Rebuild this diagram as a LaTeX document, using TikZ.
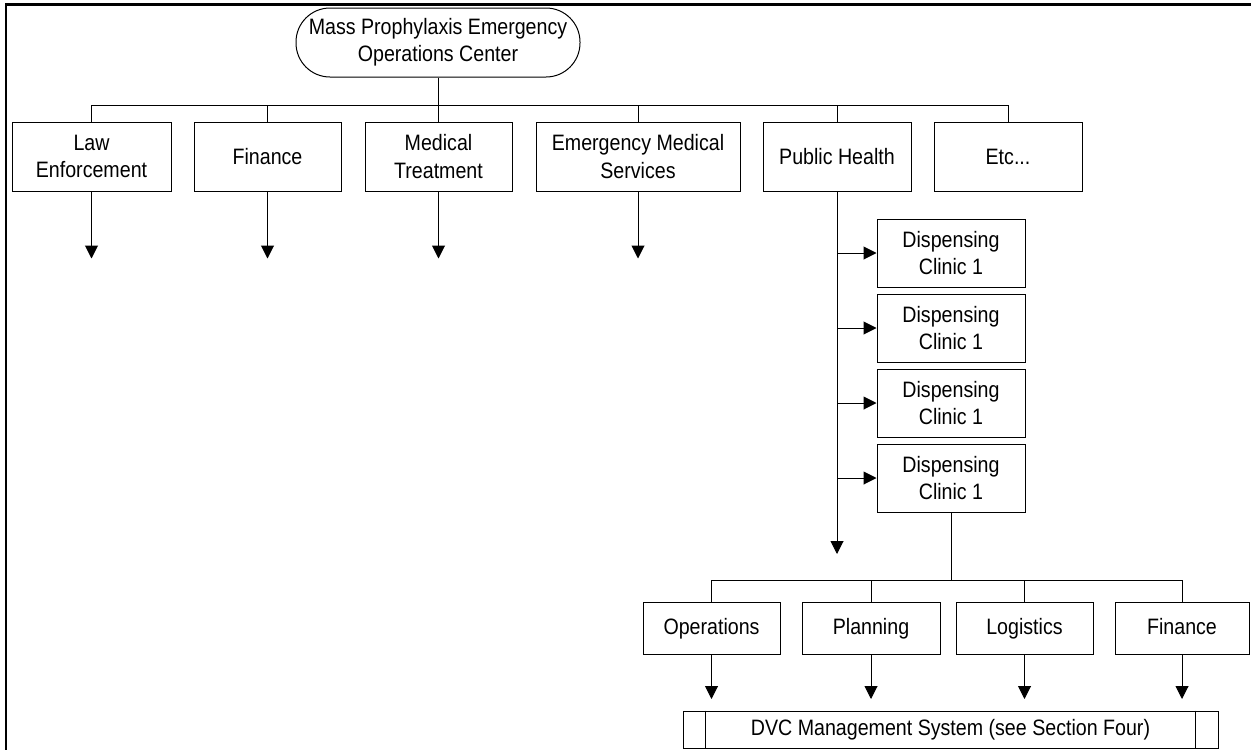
\documentclass[tikz,border=0pt]{standalone}
\usepackage{fontspec}
\setmainfont{Liberation Sans}
\newfontfamily\dfont[FakeStretch=0.88]{Liberation Sans}
\usetikzlibrary{arrows.meta,calc}
\tikzset{
  box/.style={draw=black, line width=1pt, inner sep=0pt, align=center,
    font=\dfont\fontsize{22.3}{27.3}\selectfont, text=black},
  conn/.style={draw=black, line width=1pt},
  arr/.style={conn, -{Triangle[length=13pt,width=13pt]}},
  frame/.style={draw=black, line width=2.2pt}
}
\begin{document}
\begin{tikzpicture}[x=1pt,y=-1pt]
\useasboundingbox (0,0) rectangle (1251,750);
\draw[frame] (6,750) -- (6,4.5) -- (1251,4.5);

% top node
\node[box, rounded corners=34pt, minimum width=284pt, minimum height=69pt] (top) at (438,42.5)
  {Mass Prophylaxis Emergency\\Operations Center};

% level 1
\node[box, minimum width=159pt, minimum height=69pt] (law) at (91.5,156.5) {Law\\Enforcement};
\node[box, minimum width=147pt, minimum height=69pt] (fin) at (267.5,156.5) {Finance};
\node[box, minimum width=147pt, minimum height=69pt] (med) at (438.5,156.5) {Medical\\Treatment};
\node[box, minimum width=204pt, minimum height=69pt] (ems) at (638,156.5) {Emergency Medical\\Services};
\node[box, minimum width=148pt, minimum height=69pt] (ph) at (837,156.5) {Public Health};
\node[box, minimum width=148pt, minimum height=69pt] (etc) at (1008,156.5) {Etc...};

\coordinate (bus) at (438.5,105);
\draw[conn] (top.south) -- (top.south |- bus);
\draw[conn] (law.north) -- (law.north |- bus) -- (etc.north |- bus) -- (etc.north);
\draw[conn] (fin.north) -- (fin.north |- bus);
\draw[conn] (med.north) -- (med.north |- bus);
\draw[conn] (ems.north) -- (ems.north |- bus);
\draw[conn] (ph.north) -- (ph.north |- bus);

% free-ended down arrows
\path (law.south) ++(0,67) coordinate (lawE);
\path (fin.south) ++(0,67) coordinate (finE);
\path (med.south) ++(0,67) coordinate (medE);
\path (ems.south) ++(0,67) coordinate (emsE);
\draw[arr] (law.south) -- (lawE);
\draw[arr] (fin.south) -- (finE);
\draw[arr] (med.south) -- (medE);
\draw[arr] (ems.south) -- (emsE);

% dispensing clinics
\node[box, minimum width=148pt, minimum height=68pt] (dc1) at (951,253) {Dispensing\\Clinic 1};
\node[box, minimum width=148pt, minimum height=68pt] (dc2) at (951,328) {Dispensing\\Clinic 1};
\node[box, minimum width=148pt, minimum height=68pt] (dc3) at (951,403) {Dispensing\\Clinic 1};
\node[box, minimum width=148pt, minimum height=68pt] (dc4) at (951,478) {Dispensing\\Clinic 1};

\coordinate (phE) at (837,554);
\draw[arr] (ph.south) -- (phE);
\draw[arr] (ph.south |- dc1.west) -- (dc1.west);
\draw[arr] (ph.south |- dc2.west) -- (dc2.west);
\draw[arr] (ph.south |- dc3.west) -- (dc3.west);
\draw[arr] (ph.south |- dc4.west) -- (dc4.west);

% bottom row
\node[box, minimum width=137pt, minimum height=52pt] (ops) at (711.5,628.5) {Operations};
\node[box, minimum width=138pt, minimum height=52pt] (plan) at (871,628.5) {Planning};
\node[box, minimum width=137pt, minimum height=52pt] (log) at (1024.5,628.5) {Logistics};
\node[box, minimum width=134pt, minimum height=52pt] (fin2) at (1182,628.5) {Finance\vphantom{g}};

\coordinate (bus2) at (951,580);
\draw[conn] (dc4.south) -- (bus2);
\draw[conn] (ops.north) -- (ops.north |- bus2) -- (fin2.north |- bus2) -- (fin2.north);
\draw[conn] (plan.north) -- (plan.north |- bus2);
\draw[conn] (log.north) -- (log.north |- bus2);

\path (ops.south) ++(0,44) coordinate (opsE);
\path (plan.south) ++(0,44) coordinate (planE);
\path (log.south) ++(0,44) coordinate (logE);
\path (fin2.south) ++(0,44) coordinate (fin2E);
\draw[arr] (ops.south) -- (opsE);
\draw[arr] (plan.south) -- (planE);
\draw[arr] (log.south) -- (logE);
\draw[arr] (fin2.south) -- (fin2E);

% DVC system
\node[box, minimum width=535pt, minimum height=37pt] (dvc) at (950.5,729.5)
  {DVC Management System (see Section Four)};
\draw[conn] ($(dvc.north west)+(23,0)$) -- ($(dvc.south west)+(23,0)$);
\draw[conn] ($(dvc.north east)+(-23,0)$) -- ($(dvc.south east)+(-23,0)$);
\end{tikzpicture}
\end{document}
